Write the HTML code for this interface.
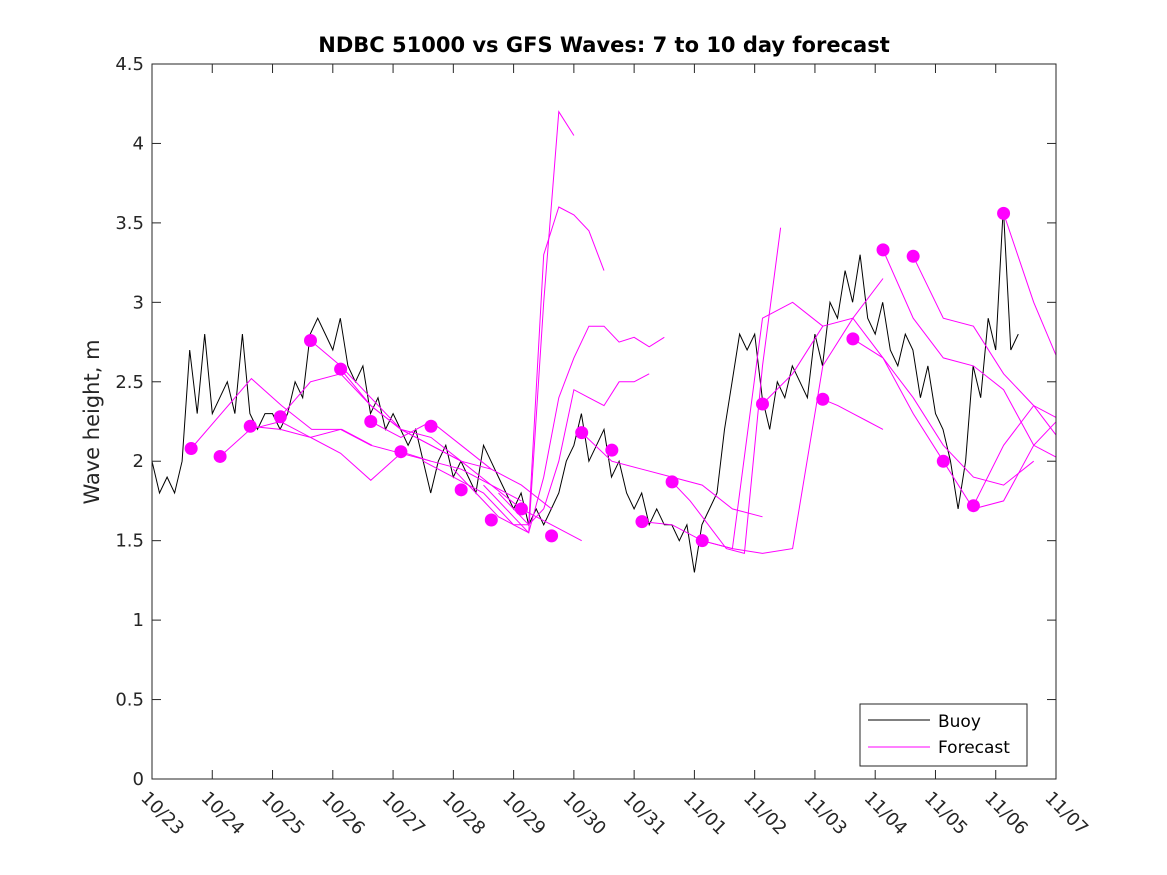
<!DOCTYPE html>
<html><head><meta charset="utf-8"><style>
body{margin:0;background:#fff}
svg{display:block;font-family:"DejaVu Sans","Liberation Sans",sans-serif}
</style></head><body>
<svg id="chart" width="1167" height="875" viewBox="0 0 1167 875">
<rect width="1167" height="875" fill="#fff"/>
<text x="604" y="52" text-anchor="middle" font-size="21" font-weight="bold" fill="#000">NDBC 51000 vs GFS Waves: 7 to 10 day forecast</text>
<text transform="translate(99,422) rotate(-90)" text-anchor="middle" font-size="21" fill="#262626">Wave height, m</text>
<g id="grid"></g>
<g id="series"></g>
<rect x="152" y="64" width="904" height="715" fill="none" stroke="#262626" stroke-width="1"/>
<g id="legend">
<rect x="860" y="704" width="167" height="62" fill="#fff" stroke="#262626"/>
<line x1="868" y1="720" x2="930" y2="720" stroke="#000" stroke-width="1"/>
<text x="938" y="727" font-size="17" fill="#000">Buoy</text>
<line x1="868" y1="747" x2="930" y2="747" stroke="#ff00ff" stroke-width="1"/>
<text x="938" y="753" font-size="17" fill="#000">Forecast</text>
</g>
</svg>
<script>
const xTickLabels=["10/23","10/24","10/25","10/26","10/27","10/28","10/29","10/30","10/31","11/01","11/02","11/03","11/04","11/05","11/06","11/07"];
const yTicks=[0,0.5,1,1.5,2,2.5,3,3.5,4,4.5];
const buoyStep=0.125;
const buoy=[2.0,1.8,1.9,1.8,2.0,2.7,2.3,2.8,
2.3,2.4,2.5,2.3,2.8,2.3,2.2,2.3,
2.3,2.2,2.3,2.5,2.4,2.8,2.9,2.8,
2.7,2.9,2.6,2.5,2.6,2.3,2.4,2.2,
2.3,2.2,2.1,2.2,2.0,1.8,2.0,2.1,
1.9,2.0,1.9,1.8,2.1,2.0,1.9,1.8,
1.7,1.8,1.6,1.7,1.6,1.7,1.8,2.0,
2.1,2.3,2.0,2.1,2.2,1.9,2.0,1.8,
1.7,1.8,1.6,1.7,1.6,1.6,1.5,1.6,
1.3,1.6,1.7,1.8,2.2,2.5,2.8,2.7,
2.8,2.4,2.2,2.5,2.4,2.6,2.5,2.4,
2.8,2.6,3.0,2.9,3.2,3.0,3.3,2.9,
2.8,3.0,2.7,2.6,2.8,2.7,2.4,2.6,
2.3,2.2,2.0,1.7,2.0,2.6,2.4,2.9,
2.7,3.6,2.7,2.8];
const dotDays=[0.65,1.13,1.63,2.13,2.63,3.13,3.63,4.13,4.63,5.13,5.63,6.13,6.63,7.13,7.63,8.13,8.63,9.13,10.13,11.13,11.63,12.13,12.63,13.13,13.63,14.13];
const dotValues=[2.08,2.03,2.22,2.28,2.76,2.58,2.25,2.06,2.22,1.82,1.63,1.70,1.53,2.18,2.07,1.62,1.87,1.50,2.36,2.39,2.77,3.33,3.29,2.00,1.72,3.56];
const fcStarts=[0.65,1.13,1.63,2.13,2.63,3.13,3.63,4.13,4.5,5.0,5.5,5.75,7.13,8.13,8.63,9.13,10.13,11.13,11.63,12.13,12.63,13.13,13.63,14.13];
const fcSteps=[0.5,0.5,0.5,0.5,0.5,0.5,0.5,0.5,0.25,0.25,0.25,0.25,0.5,0.5,0.3,0.5,0.5,0.25,0.5,0.5,0.5,0.5,0.5,0.5];
const fcValues=[
[2.08,2.3,2.52,2.35,2.2,2.2,2.1],
[2.03,2.2,2.25,2.15,2.2,2.1,2.05],
[2.22,2.2,2.15,2.05,1.88,2.05,2.0],
[2.28,2.5,2.55,2.35,2.2,2.15,2.0],
[2.76,2.6,2.4,2.2,2.1,2.0,1.95],
[2.58,2.35,2.2,2.1,2.0,1.85,1.75],
[2.25,2.15,2.25,2.1,1.95,1.85,1.7],
[2.06,2.0,1.95,1.85,1.7,1.6,1.5],
[2.0,1.95,1.9,1.85,1.8,1.7,1.6,1.55,3.0,4.2,4.05],
[1.95,1.85,1.75,1.65,1.6,1.6,3.3,3.6,3.55,3.45,3.2],
[1.85,1.75,1.65,1.55,1.9,2.4,2.65,2.85,2.85,2.75,2.78,2.72,2.78],
[1.8,1.7,1.6,1.7,2.0,2.45,2.4,2.35,2.5,2.5,2.55],
[2.18,2.0,1.95,1.9,1.85,1.7,1.65],
[1.62,1.6,1.5,1.45,2.9,3.0,2.85],
[1.87,1.75,1.6,1.45,1.42,2.6,3.47],
[1.5,1.45,1.42,1.45,2.6,2.9,3.15],
[2.36,2.55,2.85,2.9,2.65,2.3,2.0],
[2.39,2.35,2.3,2.25,2.2],
[2.77,2.65,2.4,2.1,1.9,1.85,2.0],
[3.33,2.9,2.65,2.6,2.45,2.1,2.0],
[3.29,2.9,2.85,2.55,2.35,2.1,1.9,1.8],
[2.0,1.7,1.75,2.1,2.3,2.1,1.95],
[1.72,2.1,2.35,2.25,2.1],
[3.56,3.0,2.55,2.3]];
const NS="http://www.w3.org/2000/svg";
const X0=152,X1=1056,Y0=779,Y1=64;
const xs=d=>X0+(X1-X0)*d/15;
const ys=v=>Y0-(Y0-Y1)*v/4.5;
const svg=document.getElementById('chart');
const grid=document.getElementById('grid');
const ser=document.getElementById('series');
function mk(t,a,p){const e=document.createElementNS(NS,t);for(const k in a)e.setAttribute(k,a[k]);p.appendChild(e);return e;}
yTicks.forEach((v,i)=>{
 const y=ys(v);
 const t1=mk('line',{x1:X0,y1:y,x2:X0+9,y2:y,stroke:'#262626'},grid);
 
 
 const t2=mk('line',{x1:X1,y1:y,x2:X1-9,y2:y,stroke:'#262626'},grid);
 
 
 const tx=mk('text',{x:X0-8,y:y+6,'text-anchor':'end','font-size':18,fill:'#262626'},grid);
 tx.textContent=String(v);
 
 
});
xTickLabels.forEach((l,i)=>{
 const x=xs(i);
 const t1=mk('line',{x1:x,y1:Y0,x2:x,y2:Y0-9,stroke:'#262626'},grid);
 
 
 const t2=mk('line',{x1:x,y1:Y1,x2:x,y2:Y1+9,stroke:'#262626'},grid);
 
 
 const tx=mk('text',{transform:`translate(${x-12},${Y0+20}) rotate(45)`,'font-size':18,fill:'#262626'},grid);
 tx.textContent=l;
 
 
});
const clip=mk('clipPath',{id:'pc'},svg);
mk('rect',{x:X0,y:Y1,width:X1-X0,height:Y0-Y1},clip);
ser.setAttribute('clip-path','url(#pc)');
const bp=buoy.map((v,i)=>xs(i*buoyStep).toFixed(1)+','+ys(v).toFixed(1)).join(' ');
const bl=mk('polyline',{points:bp,fill:'none',stroke:'#000','stroke-width':1},ser);


fcValues.forEach((vals,k)=>{
 const p=vals.map((v,i)=>xs(fcStarts[k]+i*fcSteps[k]).toFixed(1)+','+ys(v).toFixed(1)).join(' ');
 const pl=mk('polyline',{points:p,fill:'none',stroke:'#ff00ff','stroke-width':1},ser);
 
 
});
dotDays.forEach((d,i)=>{
 const c=mk('circle',{cx:xs(d),cy:ys(dotValues[i]),r:6.5,fill:'#ff00ff'},ser);
 
 
});
</script>
</body></html>
